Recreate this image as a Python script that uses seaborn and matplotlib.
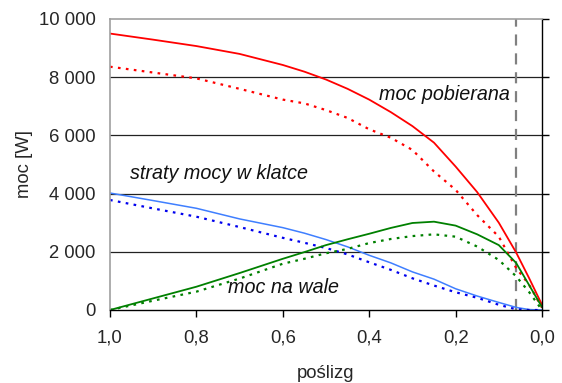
import matplotlib
matplotlib.use("Agg")
import matplotlib.pyplot as plt
import seaborn as sns
import pandas as pd
from matplotlib.ticker import FuncFormatter

# slip grid
slip = [1.0, 0.9, 0.8, 0.7, 0.6, 0.55, 0.5, 0.45, 0.4, 0.35, 0.3, 0.25, 0.2, 0.15, 0.1, 0.06, 0.03, 0.0]

# moc pobierana (input power)
pobierana_solid = [9500, 9290, 9070, 8800, 8420, 8190, 7920, 7600, 7230, 6800, 6320, 5750, 4930, 4050, 3000, 1980, 1100, 180]
pobierana_dot = [8360, 8160, 7960, 7600, 7230, 7100, 6870, 6600, 6210, 5920, 5500, 4760, 4130, 3260, 2520, 1450, 870, 80]
# straty mocy w klatce (rotor losses)
straty_solid = [4020, 3760, 3495, 3130, 2830, 2640, 2420, 2170, 1880, 1620, 1310, 1060, 730, 480, 260, 90, 15, 0]
straty_dot = [3780, 3490, 3206, 2850, 2480, 2310, 2130, 1910, 1640, 1380, 1090, 840, 610, 420, 180, 25, 0, 0]
# moc na wale (shaft power)
wale_solid = [0, 400, 800, 1270, 1760, 1990, 2230, 2430, 2620, 2820, 2990, 3035, 2900, 2600, 2230, 1620, 860, 100]
wale_dot = [0, 320, 630, 1080, 1590, 1760, 1950, 2100, 2300, 2440, 2540, 2600, 2520, 2180, 1720, 1160, 620, 0]

rated_slip = 0.06
y_ticks = [0, 2000, 4000, 6000, 8000, 10000]
x_ticks = [1.0, 0.8, 0.6, 0.4, 0.2, 0.0]

sns.set_style("white")
plt.rcParams["font.family"] = ["Liberation Sans", "DejaVu Sans"]

fig = plt.figure(figsize=(5.62, 3.83), dpi=100)
ax = fig.add_axes([110/562, (383-310)/383, (542-110)/562, (310-19)/383])

series = [
    (pobierana_solid, "#FF0000", "-", 1.3),
    (pobierana_dot, "#FF0000", (0, (1.2, 2.4)), 1.6),
    (straty_solid, "#3F7FFF", "-", 1.1),
    (straty_dot, "#0000EE", (0, (1.2, 2.4)), 1.6),
    (wale_solid, "#008000", "-", 1.3),
    (wale_dot, "#008000", (0, (1.2, 2.4)), 1.6),
]
for vals, col, ls, lw in series:
    df = pd.DataFrame({"s": slip, "p": vals})
    sns.lineplot(data=df, x="s", y="p", ax=ax, color=col, linestyle=ls, linewidth=lw,
                 sort=False, estimator=None)

ax.set_xlim(1.0, 0.0)
ax.set_ylim(0, 10000)
ax.set_xticks(x_ticks)
ax.set_yticks(y_ticks)
ax.xaxis.set_major_formatter(FuncFormatter(lambda v, p: f"{v:.1f}".replace(".", ",")))
ax.yaxis.set_major_formatter(FuncFormatter(lambda v, p: f"{int(v):,}".replace(",", " ")))

for y in y_ticks[1:-1]:
    ax.axhline(y, color="#222222", linewidth=0.9, zorder=0)

ax.axvline(rated_slip, color="#808080", linewidth=1.6, linestyle=(0, (5, 3.5)), zorder=1)

for side in ["left", "top"]:
    ax.spines[side].set_color("#A0A0A0")
    ax.spines[side].set_linewidth(1.2)
for side in ["right", "bottom"]:
    ax.spines[side].set_color("black")
    ax.spines[side].set_linewidth(1.0)

ax.tick_params(axis="y", left=False, right=True, labelleft=True, labelright=False,
               direction="out", length=5, width=1, color="black", labelsize=13.3, pad=5.5)
ax.tick_params(axis="x", bottom=True, direction="out", length=5, width=1,
               color="black", labelsize=13.3, pad=9)

ax.set_xlabel("poślizg", fontsize=13.3, labelpad=13)
ax.set_ylabel("moc [W]", fontsize=13.3, labelpad=4)

ax.text(0.377, 7420, "moc pobierana", fontsize=14.2, style="italic", ha="left", va="center", color="#111111")
ax.text(0.954, 4680, "straty mocy w klatce", fontsize=14.2, style="italic", ha="left", va="center", color="#111111")
ax.text(0.727, 790, "moc na wale", fontsize=14.2, style="italic", ha="left", va="center", color="#111111")

fig.savefig("out.png", dpi=100)
